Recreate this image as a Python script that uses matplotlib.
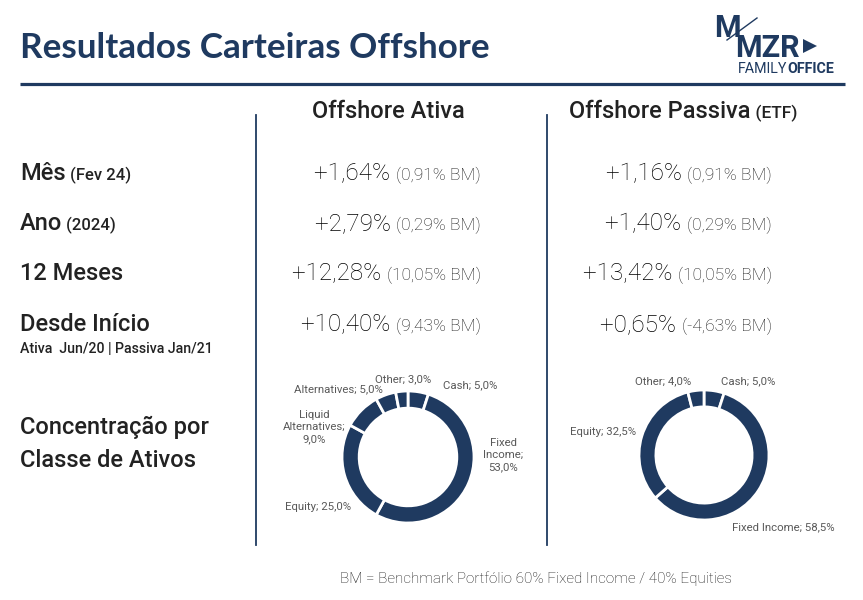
import matplotlib
matplotlib.use("Agg")
import matplotlib.pyplot as plt

# ---- data ----
row_labels = ["Mês", "Ano", "12 Meses", "Desde Início"]
row_sub = ["(Fev 24)", "(2024)", "", ""]
ativa_ret = ["+1,64%", "+2,79%", "+12,28%", "+10,40%"]
ativa_bm = ["(0,91% BM)", "(0,29% BM)", "(10,05% BM)", "(9,43% BM)"]
passiva_ret = ["+1,16%", "+1,40%", "+13,42%", "+0,65%"]
passiva_bm = ["(0,91% BM)", "(0,29% BM)", "(10,05% BM)", "(-4,63% BM)"]

ativa_classes = ["Cash", "Fixed\nIncome", "Equity", "Liquid\nAlternatives", "Alternatives", "Other"]
ativa_share = [5.0, 53.0, 25.0, 9.0, 5.0, 3.0]
passiva_classes = ["Cash", "Fixed Income", "Equity", "Other"]
passiva_share = [5.0, 58.5, 32.5, 4.0]

NAVY = "#1f3a60"
DARK = "#222222"
FONT = "Roboto"

W, H = 863, 600
fig = plt.figure(figsize=(W / 100, H / 100), dpi=100)
ax = fig.add_axes([0, 0, 1, 1])
ax.set_xlim(0, W)
ax.set_ylim(H, 0)
ax.axis("off")

# title + rule
ax.text(20, 58, "Resultados Carteiras Offshore", fontsize=25.2, fontweight="bold",
        family="Lato", color=NAVY, va="baseline")
ax.plot([20, 845], [84, 84], color=NAVY, lw=2.3, solid_capstyle="butt")

# logo
ax.text(714, 37, "M", fontsize=22, fontweight="bold", family=FONT, color=NAVY, va="baseline")
ax.text(735, 57, "MZR", fontsize=22, fontweight="bold", family=FONT, color=NAVY, va="baseline")
ax.plot([727, 757], [40, 18], color=NAVY, lw=1)
ax.fill([803, 803, 817], [39, 53, 46], color=NAVY, lw=0)
fam = ax.text(738, 73, "FAMILY", fontsize=10.3, family=FONT, fontweight="normal",
              color=NAVY, va="baseline")
ax.annotate("OFFICE", xy=(1, 73), xycoords=(fam, "data"), fontsize=10.3, family=FONT,
            fontweight="bold", color=NAVY, va="baseline")

# column headers
ax.text(388, 118, "Offshore Ativa", fontsize=17, fontweight="medium",
        family=FONT, color=DARK, ha="center", va="baseline")
h2 = ax.text(569, 118, "Offshore Passiva", fontsize=17, fontweight="medium",
             family=FONT, color=DARK, ha="left", va="baseline")
ax.annotate(" (ETF)", xy=(1, 118), xycoords=(h2, "data"), fontsize=12.5,
            fontweight="medium", family=FONT, color=DARK, va="baseline")

# vertical separators
for x in (256, 547):
    ax.plot([x, x], [115, 545], color=NAVY, lw=1.3)

# rows
row_y = [180, 230, 280, 331]
for i, y in enumerate(row_y):
    lab = ax.text(20, y, row_labels[i], fontsize=17, fontweight="medium",
                  family=FONT, color=DARK, va="baseline")
    if row_sub[i]:
        ax.annotate(" " + row_sub[i], xy=(1, y), xycoords=(lab, "data"), fontsize=12,
                    fontweight="medium", family=FONT, color=DARK, va="baseline")
    for right, rets, bms in ((481, ativa_ret, ativa_bm), (772, passiva_ret, passiva_bm)):
        bm = ax.text(right, y, bms[i], fontsize=12.5, fontweight="light", family=FONT,
                     color="#1a1a1a", ha="right", va="baseline")
        ax.annotate(rets[i] + " ", xy=(0, y), xycoords=(bm, "data"), fontsize=17.5,
                    fontweight="light", family=FONT, color="#000000", ha="right",
                    va="baseline")

ax.text(20, 353, "Ativa  Jun/20 | Passiva Jan/21", fontsize=10.2, fontweight="medium",
        family=FONT, color=DARK, va="baseline")
ax.text(20, 434, "Concentração por", fontsize=17, fontweight="medium",
        family=FONT, color=DARK, va="baseline")
ax.text(20, 467, "Classe de Ativos", fontsize=17, fontweight="medium",
        family=FONT, color=DARK, va="baseline")

# footnote
ax.text(536, 583, "BM = Benchmark Portfólio 60% Fixed Income / 40% Equities", fontsize=11,
        fontweight="light", family=FONT, color="#1a1a1a", ha="center", va="baseline")


# donuts
def donut(cx, cy, r, shares, classes, label_pos):
    pax = fig.add_axes([(cx - r) / W, (H - cy - r) / H, 2 * r / W, 2 * r / H])
    pax.pie(shares, startangle=90, counterclock=False, radius=1,
            colors=[NAVY] * len(shares),
            wedgeprops=dict(width=0.26, edgecolor="white", linewidth=2))
    pax.set_xlim(-1, 1)
    pax.set_ylim(-1, 1)
    pax.set_aspect("auto")
    for name, val, (lx, ly) in zip(classes, shares, label_pos):
        pct = f"{val:.1f}%".replace(".", ",")
        if "\n" in name:
            txt = f"{name};\n{pct}"
        else:
            txt = f"{name}; {pct}"
        pax.text(lx, ly, txt, fontsize=8.2, fontweight="normal", family=FONT,
                 color="#595959", ha="center", va="center", multialignment="center",
                 clip_on=False, linespacing=1.25)


donut(408, 457, 66, ativa_share, ativa_classes,
      [(0.94, 1.09), (1.44, 0.03), (-1.36, -0.76), (-1.42, 0.45), (-1.05, 1.03), (-0.08, 1.18)])
donut(704, 455, 65, passiva_share, passiva_classes,
      [(0.68, 1.14), (1.22, -1.11), (-1.55, 0.35), (-0.63, 1.14)])

fig.savefig("out.png", dpi=100)
